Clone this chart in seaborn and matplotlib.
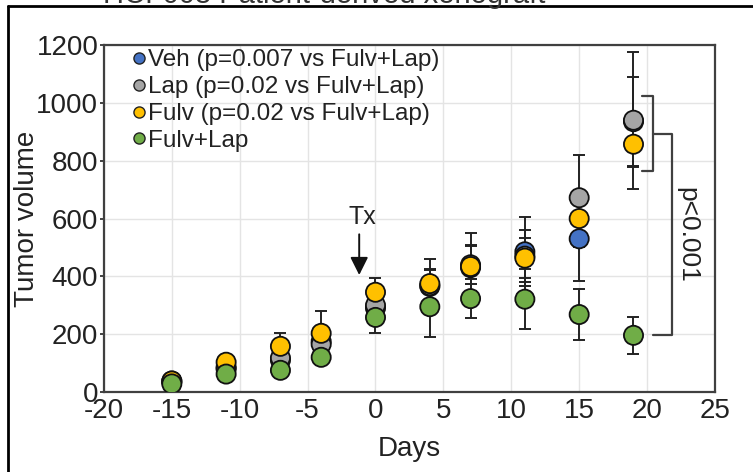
import numpy as np
import pandas as pd
import matplotlib.pyplot as plt
from matplotlib.lines import Line2D
import seaborn as sns

# ─── DATA ───────────────────────────────────────────────
days = [-15, -11, -7, -4, 0, 4, 7, 11, 15, 19]

groups = ["Veh (p=0.007 vs Fulv+Lap)", "Lap (p=0.02 vs Fulv+Lap)",
          "Fulv (p=0.02 vs Fulv+Lap)", "Fulv+Lap"]

veh_mean  = [35, 80, 110, 175, 290, 365, 430, 485, 530, 935]
veh_sem   = [10, 15, 25, 40, 50, 60, 80, 120, 146, 155]
lap_mean  = [38, 85, 118, 165, 300, 368, 440, 470, 672, 940]
lap_sem   = [8, 15, 20, 30, 45, 55, 65, 90, 148, 237]
fulv_mean = [38, 103, 158, 203, 345, 375, 434, 463, 600, 857]
fulv_sem  = [8, 15, 47, 77, 50, 85, 115, 70, 100, 80]
comb_mean = [28, 62, 75, 120, 258, 295, 323, 321, 268, 196]
comb_sem  = [8, 12, 15, 20, 53, 105, 68, 103, 88, 64]

colors = ["#4472C4", "#A5A5A5", "#FFC000", "#70AD47"]

means = [veh_mean, lap_mean, fulv_mean, comb_mean]
sems  = [veh_sem, lap_sem, fulv_sem, comb_sem]

df = pd.concat([
    pd.DataFrame({"Days": days, "Tumor volume": m, "sem": s, "group": g})
    for g, m, s in zip(groups, means, sems)
], ignore_index=True)

# ─── STYLE ──────────────────────────────────────────────
sns.set_theme(style="whitegrid")
plt.rcParams['font.family'] = ['Liberation Sans', 'DejaVu Sans']
plt.rcParams['axes.unicode_minus'] = False

fig = plt.figure(figsize=(7.53, 4.72), dpi=100)
ax = fig.add_axes([0.138, 0.1695, 0.8115, 0.735])

# error bars under the markers
for g, c in zip(groups, colors):
    sub = df[df["group"] == g]
    ax.errorbar(sub["Days"], sub["Tumor volume"], yerr=sub["sem"], fmt='none',
                ecolor='#222222', elinewidth=1.4, capsize=4, capthick=1.4, zorder=2)

sns.scatterplot(data=df, x="Days", y="Tumor volume", hue="group", palette=colors,
                s=190, edgecolor='#111111', linewidth=1.3, ax=ax, zorder=3, legend=False)

ax.set_xlim(-20, 25)
ax.set_ylim(0, 1200)
ax.set_xticks(np.arange(-20, 26, 5))
ax.set_yticks(np.arange(0, 1201, 200))
ax.grid(True, color='#E4E4E4', linewidth=1.0)
for sp in ax.spines.values():
    sp.set_color('#404040')
    sp.set_linewidth(1.6)
ax.tick_params(axis='both', labelsize=20, colors='#222222', length=3, width=1.2,
               pad=1, direction='out', left=True, bottom=False)
ax.set_xlabel("Days", fontsize=20, color='#222222', labelpad=9)
ax.set_ylabel("Tumor volume", fontsize=20, color='#222222')
ax.yaxis.set_label_coords(-0.104, 0.5)

# legend
handles = [Line2D([], [], marker='o', linestyle='none', markersize=8,
                  markerfacecolor=c, markeredgecolor='#222222', markeredgewidth=1.0)
           for c in colors]
leg = ax.legend(handles, groups, loc='upper left', bbox_to_anchor=(0.02, 1.03),
                frameon=False, fontsize=17.5, handletextpad=0.0, labelspacing=0.2,
                handlelength=0.7, borderaxespad=0.2)
for t in leg.get_texts():
    t.set_color('#222222')

# treatment arrow
ax.annotate("", xy=(-1.2, 395), xytext=(-1.2, 555),
            arrowprops=dict(arrowstyle='-|>,head_width=0.45,head_length=0.9',
                            color='#111111', lw=1.4))
ax.text(-1.0, 607, "Tx", fontsize=18, ha='center', va='center', color='#222222')

# significance brackets
bc = '#404040'
ax.plot([19.6, 20.45, 20.45, 19.6], [1024, 1024, 766, 766], color=bc, lw=1.6,
        clip_on=False)
ax.plot([20.45, 21.8, 21.8, 20.45], [894, 894, 196, 196], color=bc, lw=1.6,
        clip_on=False)
ax.text(23.0, 545, "p<0.001", rotation=-90, fontsize=19, ha='center', va='center',
        color='#222222')

# outer frame and clipped title
fig.add_artist(Line2D([8 / 753, 8 / 753], [0, 1 - 6 / 472], color='black', lw=2,
                      transform=fig.transFigure))
fig.add_artist(Line2D([8 / 753, 1], [1 - 6 / 472, 1 - 6 / 472], color='black', lw=2,
                      transform=fig.transFigure))
fig.text(0.43, 1 - 3 / 472, "HCI-003 Patient-derived xenograft", fontsize=21,
         ha='center', va='baseline', color='#333333')

fig.savefig("out.png", dpi=100)
